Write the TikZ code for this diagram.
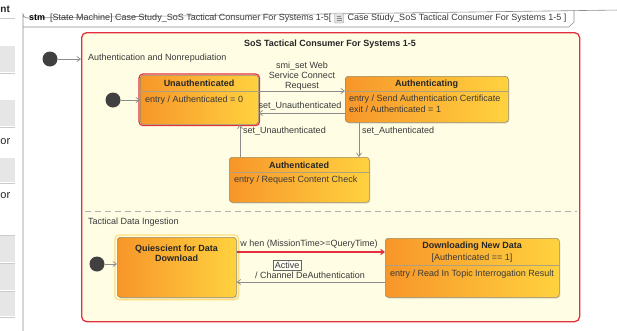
\documentclass[tikz,border=0pt]{standalone}
\usepackage{fontspec}
\setmainfont{Liberation Sans}
\usetikzlibrary{arrows.meta,shadows}

\definecolor{stOrange}{HTML}{F7962A}
\definecolor{stYellow}{HTML}{FFD23F}
\definecolor{stEdge}{HTML}{9A8A60}
\definecolor{compFill}{HTML}{FFFDE3}
\definecolor{selRed}{HTML}{E3303F}
\definecolor{lineGray}{HTML}{8C8C8C}
\definecolor{txtGray}{HTML}{3A3A3A}
\definecolor{panelGray}{HTML}{E6E6E6}

\begin{document}
\begin{tikzpicture}[x=1pt,y=-1pt,
  every node/.style={font=\fontsize{9}{10}\selectfont, text=txtGray, inner sep=0pt},
  statebox/.style={draw=stEdge, line width=0.6pt, rounded corners=3pt,
    left color=stOrange, right color=stYellow, anchor=north west,
    drop shadow={opacity=0.25, shadow xshift=1pt, shadow yshift=-1.2pt}},
  stitle/.style={font=\bfseries\fontsize{9}{10}\selectfont, text=black!85},
  sline/.style={draw=stEdge!80, line width=0.4pt},
  trans/.style={draw=lineGray, line width=0.7pt, -{Straight Barb[length=3.5pt,width=5pt]}},
  initial/.style={circle, fill=black!75, minimum size=15pt},
  lbl/.style={font=\fontsize{9}{10}\selectfont, text=txtGray},
  paneltext/.style={anchor=west, font=\fontsize{11}{12}\selectfont, text=black!85}
]
\useasboundingbox (0,0) rectangle (617,330);
\fill[white] (0,0) rectangle (617,330);

% --- side panel on the left
\foreach \ya/\yb in {46/72,100/126,158/182,236/262,264/290,292/316}
  \fill[panelGray] (0,\ya) rectangle (15,\yb);
\foreach \yy in {18,73,127,183,235,263,291,317}
  \draw[black!20] (0,\yy) -- (15,\yy);
\node[paneltext, font=\bfseries\fontsize{10}{12}\selectfont] (pnt) at (0.3,9) {nt};
\node[paneltext] (por1) at (0.3,142) {or};
\node[paneltext] (por2) at (0.3,196) {or};

% --- diagram frame with its name tab
\draw[black!45, line width=0.6pt] (23,335) -- (23,14) arc[start angle=180, end angle=90, radius=4] -- (620,10);
\draw[black!45, line width=0.6pt] (23,27) -- (569,27) -- (574,22) -- (574,10);
\node[anchor=west, font=\fontsize{9}{10}\selectfont] (frameA) at (29,18.5)
  {\textbf{\color{black}stm}\ \ [State Machine] Case Study\_SoS Tactical Consumer For Systems 1-5[};
\coordinate (iconSW) at ([xshift=3pt, yshift=-4.5pt]frameA.east);
\draw[black!40, fill=black!12, rounded corners=0.8pt] (iconSW) rectangle ++(9,-10);
\draw[black!45] ([shift={(2,-3)}]iconSW) -- ++(5,0) ([shift={(2,-5)}]iconSW) -- ++(5,0) ([shift={(2,-7)}]iconSW) -- ++(4,0);
\node[anchor=west, font=\fontsize{9}{10}\selectfont] (frameB) at ([xshift=16pt]frameA.east)
  {Case Study\_SoS Tactical Consumer For Systems 1-5 ]};

% --- composite state
\node[draw=selRed, line width=1.3pt, rounded corners=5pt, fill=compFill, anchor=north west,
      minimum width=498pt, minimum height=289pt] (comp) at (81,32) {};
\node[stitle] (comptitle) at (330,44) {SoS Tactical Consumer For Systems 1-5};
\node[lbl, anchor=west] (reg1) at (88,58) {Authentication and Nonrepudiation};
\node[lbl, anchor=west] (reg2) at (88,222.5) {Tactical Data Ingestion};
\draw[black!30, line width=0.7pt, dash pattern=on 6pt off 4pt] (85,211) -- (577,211);

% --- initial pseudostates
\node[initial] (init0) at (50,59) {};
\node[initial] (init1) at (113,100) {};
\node[initial] (init2) at (97,264) {};

% --- states of the first region
\node[statebox, minimum width=118pt, minimum height=49pt] (unauth) at (140,75) {};
\draw[selRed, line width=1.2pt, rounded corners=4pt] ([shift={(-1,-1)}]unauth.north west) rectangle ([shift={(1,1)}]unauth.south east);
\node[stitle] (unauthT) at (199,83.5) {Unauthenticated};
\draw[sline] (140,91) -- (258,91);
\node[anchor=west] (unauthE) at (145,100) {entry / Authenticated = 0};

\node[statebox, minimum width=163pt, minimum height=46pt] (authing) at (345,76) {};
\node[stitle] (authingT) at (426.5,84) {Authenticating};
\draw[sline] (345,91) -- (508,91);
\node[anchor=west] (authingE) at (349,99) {entry / Send Authentication Certificate};
\node[anchor=west] (authingX) at (349,109) {exit / Authenticated = 1};

\node[statebox, minimum width=140pt, minimum height=45pt] (authed) at (229,157) {};
\node[stitle] (authedT) at (299,165.5) {Authenticated};
\draw[sline] (229,172) -- (369,172);
\node[anchor=west] (authedE) at (234,180) {entry / Request Content Check};

% --- states of the second region
\node[statebox, minimum width=119pt, minimum height=60pt] (quiet) at (117,237) {};
\draw[stYellow!70, line width=1.3pt, rounded corners=4pt] ([shift={(-2,-2)}]quiet.north west) rectangle ([shift={(2,2)}]quiet.south east);
\node[stitle, align=center] (quietT) at (176.5,253) {Quiescient for Data\\Download};

\node[statebox, minimum width=174pt, minimum height=59pt] (dload) at (385,238) {};
\node[stitle] (dloadT) at (472,246.5) {Downloading New Data};
\node (dloadG) at (472,258) {[Authenticated == 1]};
\draw[sline] (385,265) -- (559,265);
\node (dloadE) at (472,274) {entry / Read In Topic Interrogation Result};

% --- transitions
\draw[trans] (init0) -- (comp.west |- init0);
\draw[trans] (init1) -- (unauth.west |- init1);
\draw[trans] (init2) -- (quiet.west |- init2);

\coordinate (u1) at ([yshift=-16pt]unauth.north east);
\draw[trans] (u1) -- (authing.west |- u1);
\node[lbl, align=center] (lblConnect) at (302,76) {smi\_set Web\\Service Connect\\Request};

\coordinate (a1) at ([yshift=-37pt]authing.north west);
\draw[trans] (a1) -- (unauth.east |- a1);
\node[lbl] (lblUnauth1) at (300,106) {set\_Unauthenticated};

\coordinate (d1) at ([xshift=11pt]authed.north west);
\draw[trans] (d1) -- (d1 |- unauth.south);
\node[lbl, anchor=west] (lblUnauth2) at (243,131) {set\_Unauthenticated};

\coordinate (c1) at ([xshift=14pt]authing.south west);
\draw[trans] (c1) -- (c1 |- authed.north);
\node[lbl, anchor=west] (lblAuthed) at (362,131) {set\_Authenticated};

\coordinate (q1) at ([yshift=-15pt]quiet.north east);
\draw[trans, draw=selRed, line width=1.1pt] (q1) -- (dload.west |- q1);
\node[lbl] (lblWhen) at (309,244.5) {w hen (MissionTime>=QueryTime)};

\coordinate (w1) at ([yshift=-44pt]dload.north west);
\draw[trans] (w1) -- (quiet.east |- w1);
\node[lbl] (lblChannel) at (310,275.5) {/ Channel DeAuthentication};
\node[draw=black!60, fill=white, fill opacity=0.6, text opacity=1, inner sep=1.5pt,
      font=\fontsize{9}{10}\selectfont] (active) at (287,265) {Active};
\end{tikzpicture}
\end{document}
